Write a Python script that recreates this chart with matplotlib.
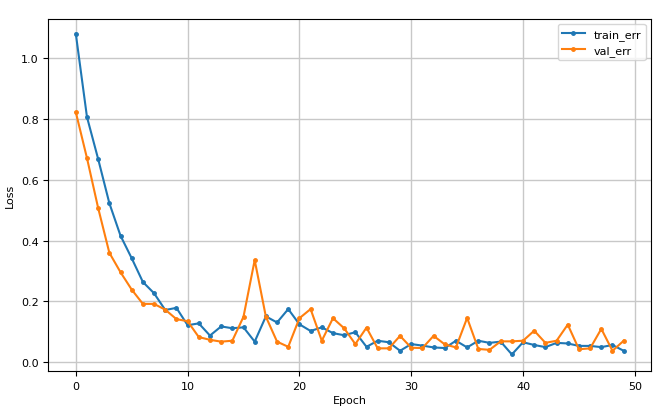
import matplotlib
matplotlib.use("Agg")
import matplotlib.pyplot as plt

epochs = list(range(50))
train_err = [1.08, 0.806, 0.668, 0.523, 0.416, 0.342, 0.264, 0.227, 0.172, 0.179,
             0.122, 0.128, 0.088, 0.118, 0.112, 0.115, 0.068, 0.151, 0.131, 0.175,
             0.125, 0.103, 0.115, 0.096, 0.089, 0.099, 0.051, 0.071, 0.066, 0.038,
             0.060, 0.055, 0.049, 0.047, 0.071, 0.049, 0.071, 0.064, 0.068, 0.026,
             0.066, 0.057, 0.050, 0.064, 0.062, 0.054, 0.054, 0.050, 0.057, 0.038]
val_err = [0.822, 0.671, 0.507, 0.360, 0.296, 0.239, 0.192, 0.192, 0.173, 0.142,
           0.135, 0.083, 0.074, 0.068, 0.071, 0.150, 0.336, 0.150, 0.068, 0.051,
           0.145, 0.175, 0.071, 0.145, 0.112, 0.060, 0.114, 0.046, 0.046, 0.087,
           0.048, 0.047, 0.087, 0.059, 0.049, 0.146, 0.044, 0.041, 0.069, 0.069,
           0.071, 0.104, 0.064, 0.071, 0.124, 0.043, 0.046, 0.110, 0.038, 0.071]

fig = plt.figure(figsize=(6.63, 4.10), dpi=100)
ax = fig.add_axes([0.073, 0.093, 0.909, 0.859])

ax.plot(epochs, train_err, marker=".", markersize=5, linewidth=1.5, label="train_err")
ax.plot(epochs, val_err, marker=".", markersize=5, linewidth=1.5, label="val_err")

ax.set_ylim(-0.028, 1.129)
ax.grid(True, color="#c8c8c8", linewidth=1.0)
ax.set_xlabel("Epoch", fontsize=8, labelpad=3)
ax.set_ylabel("Loss", fontsize=8)
ax.tick_params(labelsize=8)
ax.legend(loc="upper right", fontsize=8)

fig.savefig("out.png", dpi=100, facecolor="white")
